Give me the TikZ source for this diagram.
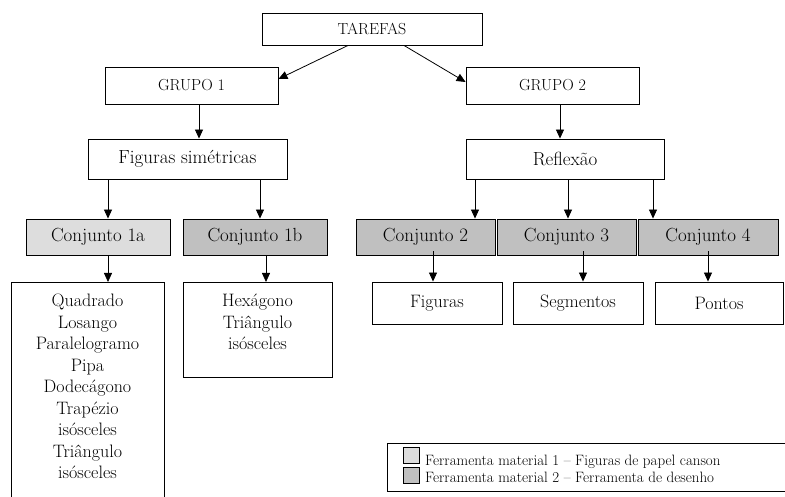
\documentclass[tikz,border=0pt]{standalone}
\usetikzlibrary{arrows.meta}
\definecolor{lightfill}{HTML}{DDDDDD}
\definecolor{darkfill}{HTML}{C0C0C0}
\newcommand{\capsfont}{\fontsize{16}{19}\selectfont}
\newcommand{\mainfont}{\fontsize{19}{22}\selectfont}
\newcommand{\listfont}{\fontsize{18}{21.5}\selectfont}
\newcommand{\legfont}{\fontsize{15}{17}\selectfont}
\begin{document}
\begin{tikzpicture}[x=1pt,y=-1pt,
  box/.style={draw, line width=0.9pt, inner sep=0pt},
  arr/.style={-{Triangle[length=9pt,width=8pt]}, line width=0.8pt},
  capsbox/.style={box, font=\capsfont},
  mainbox/.style={box, font=\mainfont},
  light/.style={fill=lightfill},
  dark/.style={fill=darkfill}]
\path[use as bounding box, clip] (0,0) rectangle (785,497);
\fill[white] (0,0) rectangle (785,497);
% top levels
\node[capsbox, minimum width=220, minimum height=32] (tar) at (372,29) {TAREFAS};
\node[capsbox, minimum width=173, minimum height=37] (g1) at (191.5,85.5) {GRUPO 1};
\node[capsbox, minimum width=173, minimum height=37] (g2) at (552.5,85.5) {GRUPO 2};
\node[mainbox, minimum width=199, minimum height=40] (fig) at (187.5,159) {Figuras simétricas};
\node[mainbox, minimum width=198, minimum height=40] (refl) at (565,159) {Reflexão};
% conjuntos
\node[mainbox, light, minimum width=144, minimum height=36] (c1a) at (98,237) {Conjunto 1a};
\node[mainbox, dark, minimum width=144, minimum height=36] (c1b) at (255,237) {Conjunto 1b};
\node[mainbox, dark, minimum width=139, minimum height=36] (c2) at (425.5,237) {Conjunto 2};
\node[mainbox, dark, minimum width=139, minimum height=36] (c3) at (566.5,237) {Conjunto 3};
\node[mainbox, dark, minimum width=140, minimum height=36] (c4) at (708,237) {Conjunto 4};
% bottom boxes
\node[mainbox, font=\listfont, minimum width=130, minimum height=42] (f2) at (437,303) {Figuras};
\node[mainbox, font=\listfont, minimum width=130, minimum height=42] (s3) at (578,303) {Segmentos};
\node[mainbox, font=\listfont, minimum width=128, minimum height=42] (p4) at (719,303) {Pontos};
\node[box, anchor=north, minimum width=153, minimum height=240] (l1) at (87.5,282) {};
\node[anchor=north, align=center, font=\listfont, inner sep=0pt] (l1t) at ([yshift=-12]l1.north)
  {Quadrado\\Losango\\Paralelogramo\\Pipa\\Dodecágono\\Trapézio\\isósceles\\Triângulo\\isósceles};
\node[box, anchor=north, minimum width=149, minimum height=95] (l2) at (257.5,282) {};
\node[anchor=north, align=center, font=\listfont, inner sep=0pt] (l2t) at ([yshift=-12]l2.north)
  {Hexágono\\Triângulo\\isósceles};
% arrows
\draw[arr] ([xshift=-24]tar.south) -- ([yshift=6.5]g1.east);
\draw[arr] ([xshift=32]tar.south) -- ([yshift=3.5]g2.west);
\draw[arr] ([xshift=7.5]g1.south) -- ([xshift=11.5]fig.north);
\draw[arr] ([xshift=7.5]g2.south) -- ([xshift=-5]refl.north);
\draw[arr] ([xshift=-79.5]fig.south) -- ([xshift=10]c1a.north);
\draw[arr] ([xshift=72.5]fig.south) -- ([xshift=5]c1b.north);
\draw[arr] ([xshift=-90]refl.south) -- ([xshift=49.5]c2.north);
\draw[arr] ([xshift=3]refl.south) -- ([xshift=1.5]c3.north);
\draw[arr] ([xshift=88]refl.south) -- ([xshift=-55]c4.north);
\draw[arr] ([xshift=10]c1a.south) -- ([xshift=20.5]l1.north);
\draw[arr] ([xshift=11]c1b.south) -- ([xshift=8.5]l2.north);
\draw[arr] ([xshift=7.5,yshift=4]c2.south) -- ([xshift=-4]f2.north);
\draw[arr] ([xshift=16.5,yshift=4]c3.south) -- ([xshift=5]s3.north);
\draw[arr] ([yshift=4]c4.south) -- ([xshift=-11]p4.north);
% legend
\node[box, anchor=north west, minimum width=420, minimum height=48] (leg) at (387,443) {};
\node[draw, line width=0.7pt, light, minimum size=16, inner sep=0pt] (sq1) at (411,455) {};
\node[draw, line width=0.7pt, dark, minimum size=16, inner sep=0pt] (sq2) at (411,475) {};
\node[anchor=base west, font=\legfont, inner sep=0pt] (lt1) at (425,465) {Ferramenta material 1 -- Figuras de papel canson};
\node[anchor=base west, font=\legfont, inner sep=0pt] (lt2) at (425,482) {Ferramenta material 2 -- Ferramenta de desenho};
\end{tikzpicture}
\end{document}
